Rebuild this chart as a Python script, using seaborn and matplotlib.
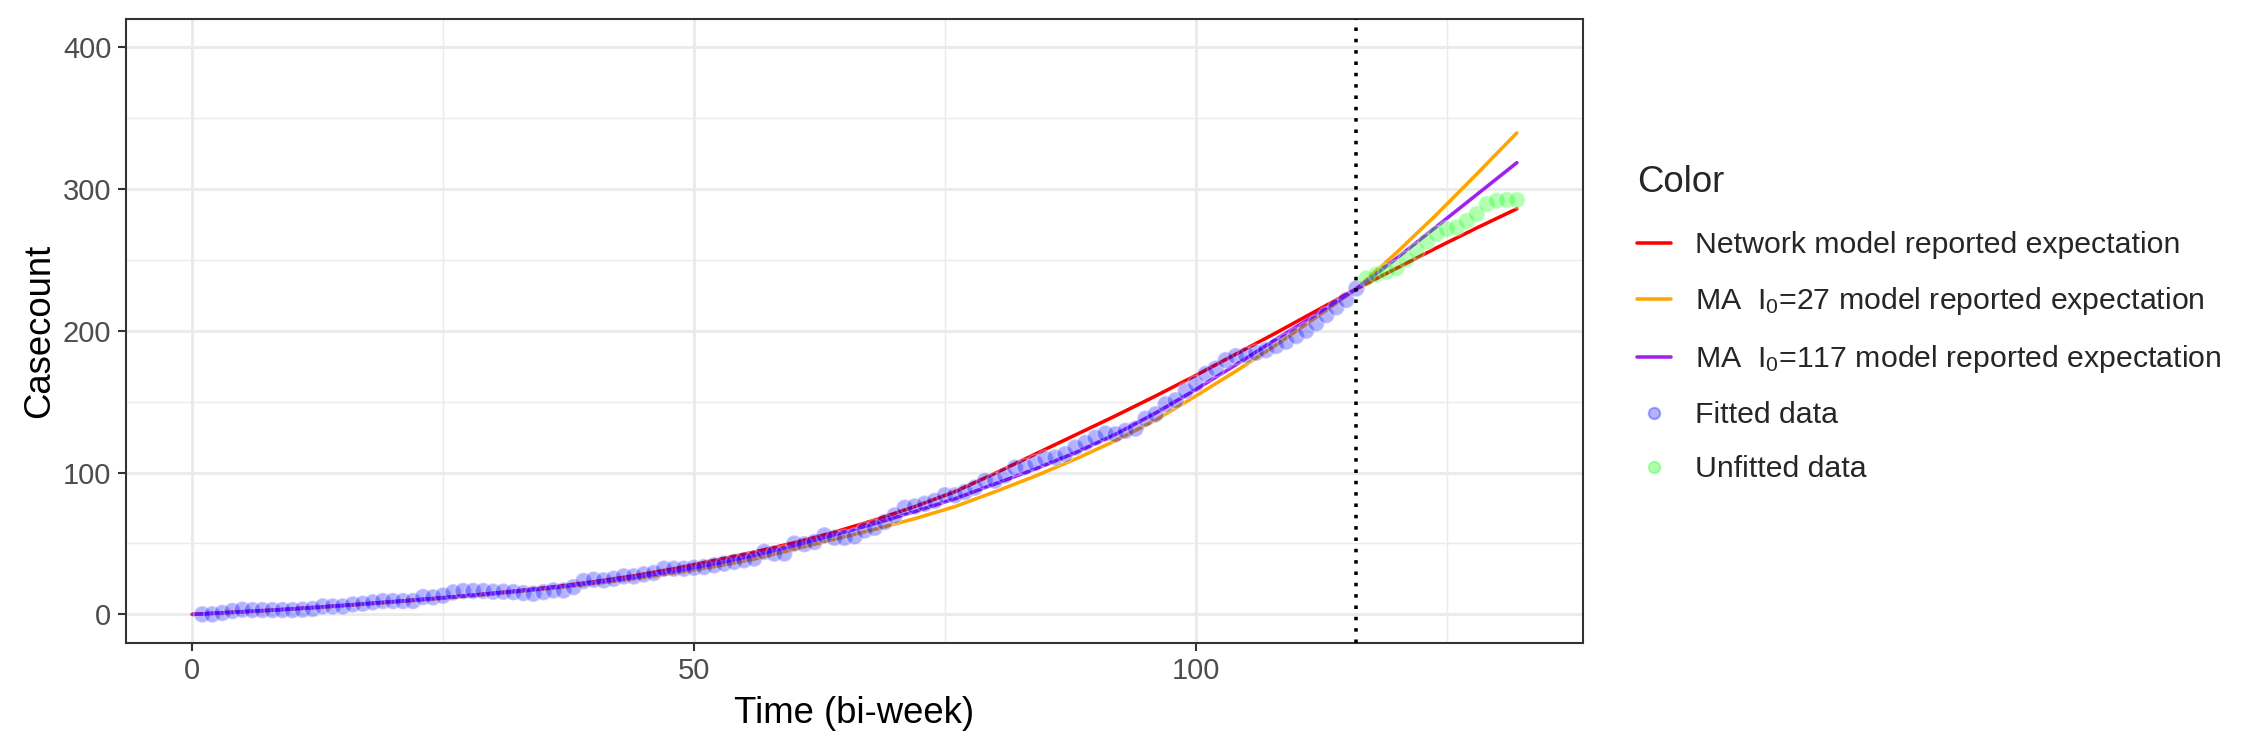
import pandas as pd
import matplotlib.pyplot as plt
from matplotlib.lines import Line2D
import seaborn as sns

# Dados
time_fit = list(range(1, 117))
fitted = [
    0, 0, 1, 2.4, 3.3, 3, 3, 3, 3, 3,
    3.3, 3.8, 5.6, 5.6, 5.6, 7, 7.5, 8.5, 9.4, 9.4,
    9.4, 9.4, 12.2, 12, 13.2, 15.5, 16.5, 16.5, 16.5, 16,
    16, 15.7, 15, 14.6, 15.7, 16.9, 16.9, 19.2, 23.5, 24.4,
    24, 25.1, 26.8, 26.8, 28.2, 29.2, 32.2, 32.2, 32.2, 32.9,
    33.4, 34.6, 35.8, 37, 38.2, 39.4, 44.1, 42.9, 42.9, 49.9,
    49.5, 51, 55.7, 54, 54, 55, 59.2, 61, 65.1, 69.8,
    75.2, 76.1, 78, 80, 84, 84, 86.3, 89.4, 94.1, 94.3,
    98, 103.5, 104, 106.8, 109.8, 110.6, 113, 117.6, 120.9, 124.6,
    127.5, 127, 129.4, 131, 138, 141.1, 148.2, 151, 157.6, 162.5,
    169.6, 173.3, 179.3, 182.1, 182.8, 184.5, 186.3, 189.2, 192.2, 196.2,
    200, 205.2, 211, 216.5, 221.7, 229.8,
]
time_unfit = list(range(117, 133))
unfitted = [236.9, 239.7, 241.6, 244, 250.3, 256.4, 262.8, 268.2,
            271.7, 272.9, 277.3, 282.3, 289.3, 291.7, 292.2, 292.2]

time_model = list(range(0, 133, 4))
network = [0, 1.5, 3.0, 4.8, 6.8, 9.0, 11.2, 13.6, 16.3, 19.4,
           23.0, 27.2, 32.2, 38.0, 44.0, 50.5, 58, 66.5, 76, 86.5,
           99.5, 113, 126.5, 140, 154, 168.5, 183.5, 198.5, 214, 229.5,
           244, 258.5, 272.5, 286]
ma27 = [0, 1.4, 2.9, 4.6, 6.5, 8.6, 10.8, 13.1, 15.7, 18.5,
        21.6, 25.1, 29.1, 33.7, 39.0, 46.0, 53, 60, 67.5, 76,
        86.5, 97.5, 109.5, 122.5, 137, 154, 171.5, 190, 209.5, 229.5,
        255, 282, 310.5, 339.5]
ma117 = [0, 1.5, 3, 4.8, 6.8, 8.9, 11.1, 13.5, 16.1, 19.0,
         22.3, 26.0, 30.3, 35.5, 41.5, 48.5, 56, 64, 72.5, 81.5,
         92, 102.5, 114, 127, 142, 158.5, 176, 194, 211.5, 229.5,
         251, 273.5, 296, 318.5]
cutoff = 116

lab_net = 'Network model reported expectation'
lab_27 = r'MA  I$\mathregular{_0}$=27 model reported expectation'
lab_117 = r'MA  I$\mathregular{_0}$=117 model reported expectation'
lab_fit = 'Fitted data'
lab_unfit = 'Unfitted data'

cores = {lab_net: '#FF0000', lab_27: '#FFA500', lab_117: '#A020F0',
         lab_fit: '#0000FF', lab_unfit: '#00FF00'}

df_model = pd.DataFrame({
    'time': time_model * 3,
    'value': network + ma27 + ma117,
    'model': [lab_net] * len(time_model) + [lab_27] * len(time_model) + [lab_117] * len(time_model),
})
df_pts = pd.DataFrame({
    'time': time_fit + time_unfit,
    'value': fitted + unfitted,
    'kind': [lab_fit] * len(time_fit) + [lab_unfit] * len(time_unfit),
})

sns.set_theme(style='white')
plt.rcParams['font.family'] = ['Liberation Sans', 'DejaVu Sans']

fig = plt.figure(figsize=(15, 5), dpi=150)
ax = fig.add_axes([0.056, 0.143, 0.6476, 0.832])

sns.lineplot(data=df_model, x='time', y='value', hue='model',
             palette=cores, linewidth=1.7, ax=ax, legend=False)
sns.scatterplot(data=df_pts, x='time', y='value', hue='kind',
                palette=cores, alpha=0.3, s=64, linewidth=0.9, ax=ax,
                legend=False, zorder=3)
ax.axvline(cutoff, color='black', linestyle=(0, (1, 2.2)), linewidth=1.7, zorder=4)

ax.set_xlim(-6.6, 138.6)
ax.set_ylim(-20, 420)
ax.set_xticks([0, 50, 100])
ax.set_xticks([25, 75, 125], minor=True)
ax.set_yticks([0, 100, 200, 300, 400])
ax.set_yticks([50, 150, 250, 350], minor=True)
ax.grid(which='major', color='#EBEBEB', linewidth=1.42)
ax.grid(which='minor', color='#EBEBEB', linewidth=0.71)
ax.set_axisbelow(True)
for sp in ax.spines.values():
    sp.set_color('#333333')
    sp.set_linewidth(1.0)
ax.tick_params(which='major', length=4, width=1.0, color='#333333',
               labelsize=14, labelcolor='#4D4D4D', pad=3,
               bottom=True, left=True)
ax.tick_params(which='minor', length=0)
ax.set_xlabel('Time (bi-week)', fontsize=17.5, color='black', labelpad=5)
ax.set_ylabel('Casecount', fontsize=17.5, color='black', labelpad=3)

handles = [
    Line2D([], [], color=cores[lab_net], lw=1.7),
    Line2D([], [], color=cores[lab_27], lw=1.7),
    Line2D([], [], color=cores[lab_117], lw=1.7),
    Line2D([], [], color=cores[lab_fit], marker='o', linestyle='none',
           markersize=5.5, alpha=0.3),
    Line2D([], [], color=cores[lab_unfit], marker='o', linestyle='none',
           markersize=5.5, alpha=0.3),
]
leg = fig.legend(handles, [lab_net, lab_27, lab_117, lab_fit, lab_unfit],
                 title='Color', loc='upper left', bbox_to_anchor=(0.7156, 0.816),
                 frameon=False, fontsize=14.5, title_fontsize=17.5,
                 handlelength=1.1, handletextpad=0.8, labelspacing=0.86,
                 alignment='left')
leg._legend_box.sep = 15

fig.savefig('out.png', dpi=150)
